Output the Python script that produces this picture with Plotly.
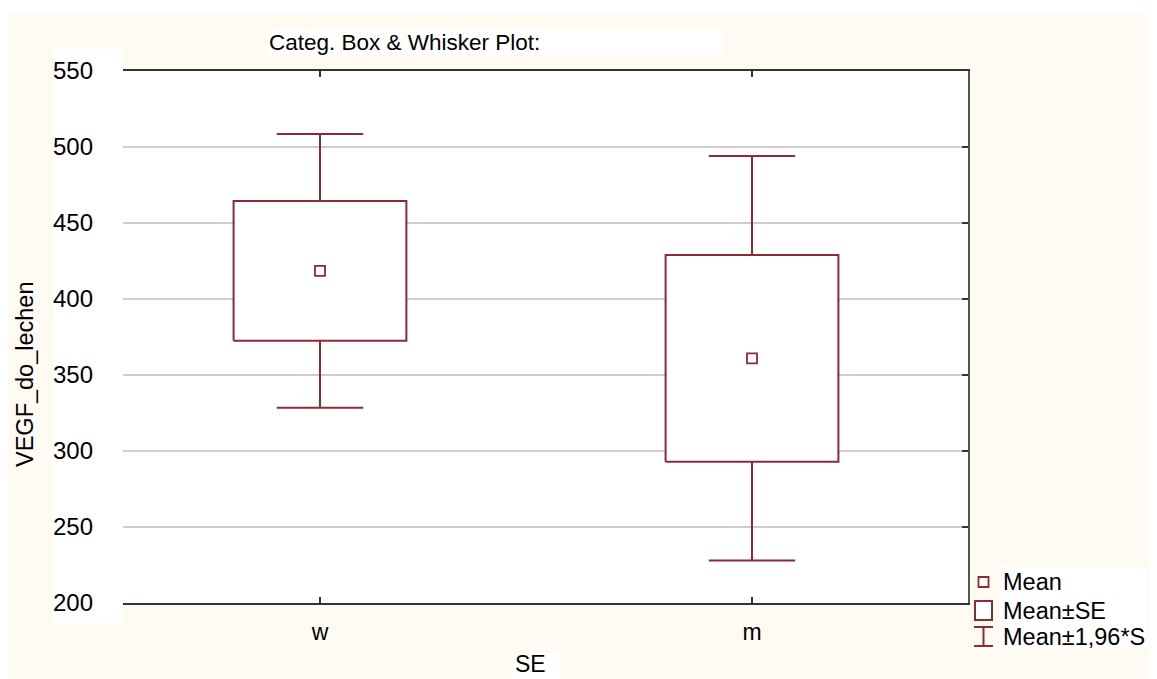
import plotly.graph_objects as go

# ── Data ──────────────────────────────────────────────────────────────────────
categories = ["w", "m"]
means      = [418.5, 361.0]
se         = [46.0, 68.0]          # Mean ± SE  (box)
ci196      = [90.0, 133.0]         # Mean ± 1,96*SD  (whiskers)
y_ticks    = [200, 250, 300, 350, 400, 450, 500, 550]

# ── Page geometry ─────────────────────────────────────────────────────────────
# the page body adds an 8px margin, so the figure is 8px smaller than the window
W, H = 1157, 679
OFF = 8
L, R, T, B = 123, 968, 71, 603     # plot area in page pixels
RED   = "#8C2A35"
CREAM = "#FFFAF2"
FONT  = "Liberation Sans, Arial, sans-serif"
BOX_W, CAP_W = 0.40, 0.20


def px(x):
    return (x - L) / (R - L)


def py(y):
    return (B - y) / (B - T)


xs = list(range(len(categories)))

# whisker stems and caps
stem_x, stem_y, cap_x, cap_y = [], [], [], []
for i, m, s, c in zip(xs, means, se, ci196):
    stem_x += [i, i, None, i, i, None]
    stem_y += [m + s, m + c, None, m - s, m - c, None]
    cap_x += [i - CAP_W / 2, i + CAP_W / 2, None, i - CAP_W / 2, i + CAP_W / 2, None]
    cap_y += [m + c, m + c, None, m - c, m - c, None]

fig = go.Figure()
fig.add_trace(go.Scatter(x=stem_x, y=stem_y, mode="lines",
                         line=dict(color=RED, width=2), hoverinfo="skip"))
fig.add_trace(go.Scatter(x=cap_x, y=cap_y, mode="lines",
                         line=dict(color=RED, width=2), hoverinfo="skip"))

# boxes: mean ± SE
for i, m, s in zip(xs, means, se):
    fig.add_trace(go.Scatter(
        x=[i - BOX_W / 2, i + BOX_W / 2, i + BOX_W / 2, i - BOX_W / 2, i - BOX_W / 2],
        y=[m - s, m - s, m + s, m + s, m - s],
        mode="lines", fill="toself", fillcolor="white",
        line=dict(color=RED, width=2), hoverinfo="skip",
    ))

# means
fig.add_trace(go.Scatter(
    x=xs, y=means, mode="markers",
    marker=dict(symbol="square", size=10, color="white",
                line=dict(color=RED, width=1.8)),
))

# dummy trace so the right-hand axis is drawn
fig.add_trace(go.Scatter(x=[None], y=[None], yaxis="y2", showlegend=False))

# ── Decorations: backgrounds ─────────────────────────────────────────────────
shapes = [
    dict(type="rect", xref="paper", yref="paper", layer="below",
         x0=px(8), x1=px(W), y0=py(14), y1=py(H),
         fillcolor=CREAM, line=dict(width=0)),
    dict(type="rect", xref="paper", yref="paper", layer="below",
         x0=px(53), x1=px(L), y0=py(49), y1=py(623),
         fillcolor="white", line=dict(width=0)),
    dict(type="rect", xref="paper", yref="paper", layer="below",
         x0=px(267), x1=px(723), y0=py(29), y1=py(55),
         fillcolor="white", line=dict(width=0)),
    dict(type="rect", xref="paper", yref="paper", layer="below",
         x0=px(513), x1=px(560), y0=py(653), y1=py(H),
         fillcolor="white", line=dict(width=0)),
    dict(type="rect", xref="paper", yref="paper", layer="below",
         x0=px(1000), x1=px(1147), y0=py(567), y1=py(648),
         fillcolor="white", line=dict(width=0)),
    dict(type="rect", xref="paper", yref="paper", layer="below",
         x0=0, x1=1, y0=0, y1=1, fillcolor="white", line=dict(width=0)),
]

# ── Legend (drawn by hand) ───────────────────────────────────────────────────
shapes += [
    dict(type="rect", xref="paper", yref="paper",
         x0=px(978.5), x1=px(988.5), y0=py(577), y1=py(587),
         line=dict(color=RED, width=1.8), fillcolor="white"),
    dict(type="rect", xref="paper", yref="paper",
         x0=px(975), x1=px(992), y0=py(601), y1=py(620),
         line=dict(color=RED, width=2), fillcolor="white"),
    dict(type="line", xref="paper", yref="paper",
         x0=px(974), x1=px(993), y0=py(627), y1=py(627), line=dict(color=RED, width=2)),
    dict(type="line", xref="paper", yref="paper",
         x0=px(974), x1=px(993), y0=py(646), y1=py(646), line=dict(color=RED, width=2)),
    dict(type="line", xref="paper", yref="paper",
         x0=px(983.5), x1=px(983.5), y0=py(627), y1=py(646), line=dict(color=RED, width=2)),
]

legend_items = [("Mean", 582), ("Mean±SE", 611), ("Mean±1,96*S", 637)]
annotations = [
    dict(text=t, x=px(1001), y=py(yy), xref="paper", yref="paper",
         xanchor="left", yanchor="middle", showarrow=False,
         font=dict(size=23.5, color="black", family=FONT))
    for t, yy in legend_items
]
annotations += [
    dict(text="Categ. Box & Whisker Plot:", x=px(267), y=py(42),
         xref="paper", yref="paper", xanchor="left", yanchor="middle",
         showarrow=False, font=dict(size=22.5, color="black", family=FONT)),
    dict(text="VEGF_do_lechen", x=px(25), y=py(374), textangle=-90,
         xref="paper", yref="paper", xanchor="center", yanchor="middle",
         showarrow=False, font=dict(size=23.5, color="black", family=FONT)),
    dict(text="SE", x=px(513), y=py(664),
         xref="paper", yref="paper", xanchor="left", yanchor="middle",
         showarrow=False, font=dict(size=23, color="black", family=FONT)),
]

fig.update_layout(
    width=W - OFF, height=H - OFF,
    margin=dict(l=L - OFF, r=W - R, t=T - OFF, b=H - B, pad=0),
    paper_bgcolor="white",
    plot_bgcolor="white",
    showlegend=False,
    font=dict(family=FONT, size=22, color="black"),
    shapes=shapes,
    annotations=annotations,
    xaxis=dict(
        range=[-0.456, 1.5], tickvals=xs, ticktext=categories,
        showgrid=False, zeroline=False,
        showline=True, linecolor="#333333", linewidth=1.5, mirror="ticks",
        ticks="inside", ticklen=6, tickwidth=1.5, tickcolor="#333333",
        ticklabelstandoff=8, tickfont=dict(size=23),
    ),
    yaxis=dict(
        range=[200, 550], tickvals=y_ticks,
        showgrid=True, gridcolor="#CDCDCD", gridwidth=1.5,
        zeroline=False, showline=False, ticks="",
        ticklabelstandoff=29, tickfont=dict(size=24),
    ),
    yaxis2=dict(
        range=[200, 550], tickvals=y_ticks, overlaying="y", side="right",
        showticklabels=False, showgrid=False, zeroline=False,
        showline=True, linecolor="#555555", linewidth=2,
        ticks="inside", ticklen=6, tickwidth=2, tickcolor="#333333",
    ),
)

fig.write_html("out.html")
